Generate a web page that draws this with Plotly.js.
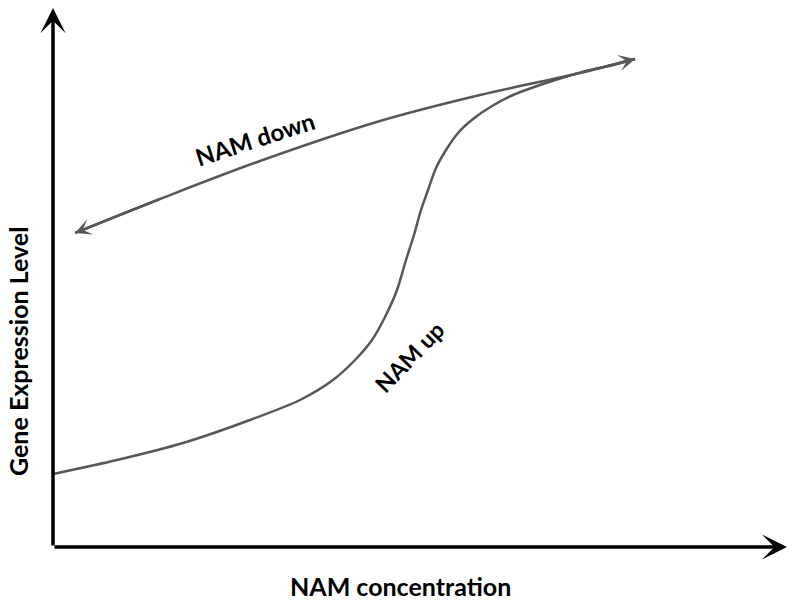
<!DOCTYPE html>
<html>
<head>
<meta charset="utf-8">
<script src="https://cdn.plot.ly/plotly-3.0.1.min.js"></script>
<style>
  html, body { margin: 0; padding: 0; background: #fff; }
  #chart { width: 800px; height: 605px; }
</style>
</head>
<body>
<div id="chart"></div>
<script>
// 1 unit = 1 px, origin at the axes corner
var upX = [0, 64, 130, 197, 247, 280, 302, 319, 332, 344, 353, 361, 368, 375, 383, 393, 405, 420, 439, 460, 487, 512, 537, 560, 582];
var upY = [73, 87, 104, 127, 147, 167, 187, 207, 230, 257, 287, 312, 337, 357, 379, 397, 414, 428, 441, 452, 462, 470, 477, 482, 488];

var downX = [22, 107, 207, 327, 427, 527, 582];
var downY = [314, 348, 386, 426, 452, 474, 488];

var xEnd = 734;
var yEnd = 539;

var curveColor = '#575757';
var fam = 'Lato, "Open Sans", sans-serif';
var titleFont = {family: fam, size: 25, color: '#000'};
var labelFont = {family: fam, size: 24, color: '#000'};

var upTrace = {
  x: upX, y: upY,
  mode: 'lines',
  line: {color: curveColor, width: 2.5, shape: 'spline', smoothing: 0.8},
  hoverinfo: 'skip'
};

var downTrace = {
  x: downX, y: downY,
  mode: 'lines',
  line: {color: curveColor, width: 2.5, shape: 'spline', smoothing: 1},
  hoverinfo: 'skip'
};

function arrow(hx, hy, tx, ty, color, width, size) {
  return {
    x: hx, y: hy, ax: tx, ay: ty,
    xref: 'x', yref: 'y', axref: 'x', ayref: 'y',
    text: '', showarrow: true,
    arrowhead: 3, arrowsize: size, arrowwidth: width, arrowcolor: color,
    standoff: 0, startstandoff: 0
  };
}

var n = downX.length;
var annotations = [
  arrow(xEnd, 0, 0, 0, '#000', 3.5, 1.2),
  arrow(0, yEnd, 0, 0, '#000', 3.5, 1.2),
  arrow(downX[n - 1], downY[n - 1], downX[n - 2], downY[n - 2], curveColor, 2.5, 1.1),
  arrow(downX[0], downY[0], downX[1], downY[1], curveColor, 2.5, 1.1),
  {
    text: '<b>NAM down</b>', x: 202, y: 409, xref: 'x', yref: 'y',
    showarrow: false, textangle: -18, font: labelFont
  },
  {
    text: '<b>NAM up</b>', x: 356, y: 190, xref: 'x', yref: 'y',
    showarrow: false, textangle: -46, font: {family: fam, size: 23, color: '#000'}
  },
  {
    text: '<b>NAM concentration</b>', x: 400, y: 19, xref: 'paper', yref: 'paper',
    xanchor: 'center', yanchor: 'middle', showarrow: false, font: titleFont
  },
  {
    text: '<b>Gene Expression Level</b>', x: 18, y: 253, xref: 'paper', yref: 'paper',
    xanchor: 'center', yanchor: 'middle', showarrow: false, textangle: -90, font: titleFont
  }
];

// paper coords given in px, converted below
annotations.forEach(function (a) {
  if (a.xref === 'paper') {
    a.x = (a.x - 53) / xEnd;
    a.y = (a.y - 58) / yEnd;
  }
});

var layout = {
  width: 800, height: 605,
  margin: {l: 53, r: 13, t: 8, b: 58},
  paper_bgcolor: '#fff', plot_bgcolor: '#fff',
  showlegend: false,
  xaxis: {range: [0, xEnd], visible: false, fixedrange: true},
  yaxis: {range: [0, yEnd], visible: false, fixedrange: true},
  annotations: annotations
};

Plotly.newPlot('chart', [upTrace, downTrace], layout, {staticPlot: true});
</script>
</body>
</html>
